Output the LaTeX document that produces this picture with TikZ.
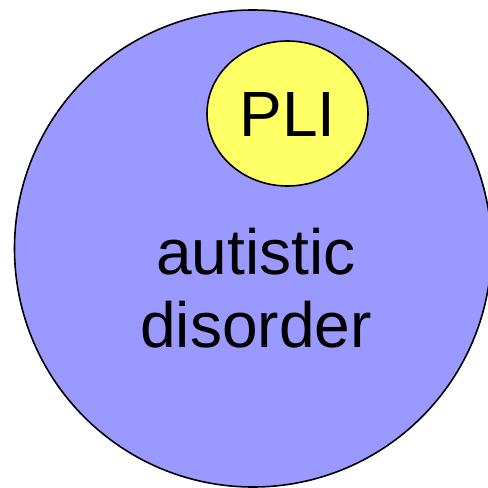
\documentclass[tikz,border=0pt]{standalone}
\usepackage{fontspec}
\setmainfont{Liberation Sans}
\definecolor{outerblue}{HTML}{9999FF}
\definecolor{inneryellow}{HTML}{FFFF66}
\begin{document}
\begin{tikzpicture}[x=1pt,y=1pt,
  bigtext/.style={font=\fontsize{64}{73}\selectfont, inner sep=0pt, anchor=base}]
\useasboundingbox (0,0) rectangle (488,488);
\fill[white] (0,0) rectangle (488,488);
\draw[line width=1.6pt, fill=outerblue] (253,239.5) circle[radius=238.5];
\draw[line width=1.6pt, fill=inneryellow] (287.5,374.5) ellipse[x radius=80.5, y radius=72.5];
\node[bigtext] (pli) at (287.5,351) {PLI};
\node[bigtext] (aut) at (256,213) {autistic};
\node[bigtext] (dis) at (256,140) {disorder};
\end{tikzpicture}
\end{document}
